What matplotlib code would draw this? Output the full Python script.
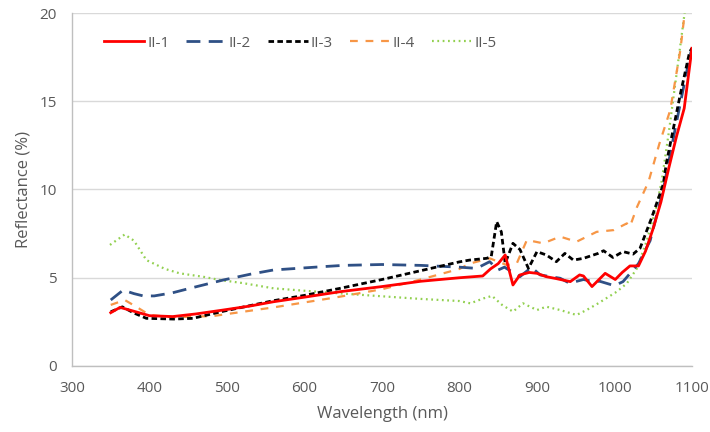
import matplotlib
matplotlib.use("Agg")
import matplotlib.pyplot as plt

# ---- data ----
wl_1 = [350, 362, 380, 400, 430, 460, 495, 530, 560, 600, 646, 700, 750, 800, 830, 840, 850, 859, 869, 878, 890, 900, 912, 925, 943, 955, 960, 971, 988, 1001, 1010, 1020, 1031, 1040, 1050, 1060, 1070, 1080, 1090, 1100]
r_1 = [3.02, 3.32, 3.1, 2.85, 2.8, 2.95, 3.17, 3.4, 3.64, 3.9, 4.21, 4.5, 4.8, 5.0, 5.1, 5.5, 5.8, 6.29, 4.59, 5.16, 5.3, 5.25, 5.06, 4.95, 4.78, 5.16, 5.1, 4.5, 5.25, 4.9, 5.3, 5.67, 5.67, 6.5, 7.8, 9.3, 11.2, 13.0, 14.6, 18.0]

wl_2 = [350, 366, 380, 392, 406, 430, 452, 495, 530, 560, 624, 650, 700, 750, 800, 822, 839, 850, 858, 878, 893, 904, 930, 942, 960, 973, 981, 1000, 1011, 1022, 1031, 1046, 1063, 1080, 1097, 1100]
r_2 = [3.74, 4.3, 4.1, 3.97, 3.97, 4.15, 4.4, 4.87, 5.2, 5.44, 5.63, 5.7, 5.75, 5.7, 5.6, 5.53, 5.91, 5.44, 5.6, 5.06, 5.59, 5.16, 4.97, 4.69, 4.9, 4.78, 4.8, 4.55, 4.78, 5.34, 5.8, 7.1, 10.0, 13.8, 17.5, 18.0]

wl_3 = [350, 365, 380, 396, 431, 456, 495, 560, 600, 646, 700, 750, 800, 813, 835, 841, 848, 854, 859, 869, 878, 889, 900, 912, 925, 936, 947, 960, 979, 986, 998, 1011, 1024, 1033, 1048, 1063, 1067, 1085, 1097, 1100]
r_3 = [3.07, 3.35, 3.0, 2.7, 2.66, 2.7, 3.1, 3.7, 4.0, 4.4, 4.9, 5.4, 5.9, 6.0, 6.1, 6.2, 8.18, 7.6, 5.82, 6.95, 6.6, 5.53, 6.48, 6.29, 5.91, 6.38, 6.0, 6.1, 6.38, 6.53, 6.15, 6.48, 6.34, 6.67, 8.4, 10.3, 11.5, 15.4, 17.8, 18.0]

wl_4 = [350, 368, 385, 400, 431, 482, 560, 641, 700, 750, 800, 813, 839, 861, 874, 887, 908, 930, 951, 977, 999, 1016, 1020, 1029, 1044, 1058, 1072, 1085, 1092]
r_4 = [3.46, 3.74, 3.3, 2.89, 2.76, 2.83, 3.32, 3.89, 4.35, 4.9, 5.5, 5.8, 6.1, 5.72, 5.82, 7.14, 6.95, 7.33, 7.04, 7.6, 7.7, 8.08, 7.9, 9.0, 10.45, 12.6, 14.5, 17.9, 20.5]

wl_5 = [349, 368, 380, 396, 420, 439, 470, 491, 520, 560, 616, 650, 700, 750, 800, 814, 831, 842, 855, 869, 882, 900, 912, 930, 951, 964, 979, 1003, 1016, 1029, 1042, 1054, 1061, 1070, 1080, 1092]
r_5 = [6.86, 7.45, 7.1, 6.0, 5.5, 5.25, 5.05, 4.87, 4.7, 4.4, 4.21, 4.1, 3.95, 3.8, 3.68, 3.55, 3.83, 3.97, 3.46, 3.08, 3.55, 3.17, 3.36, 3.17, 2.89, 3.17, 3.55, 4.21, 4.68, 5.53, 7.14, 9.0, 10.5, 13.2, 16.5, 20.5]

labels = ["II-1", "II-2", "II-3", "II-4", "II-5"]
x_ticks = [300, 400, 500, 600, 700, 800, 900, 1000, 1100]
y_ticks = [0, 5, 10, 15, 20]

plt.rcParams['font.family'] = ['Open Sans', 'DejaVu Sans']

fig = plt.figure(figsize=(7.1, 4.32), dpi=100)
ax = fig.add_axes([0.1014, 0.1528, 0.8732, 0.8171])

ax.plot(wl_1, r_1, color="#FF0000", lw=2.0, label=labels[0], zorder=5)
ax.plot(wl_2, r_2, color="#2F5085", lw=2.0, dashes=(5, 3), label=labels[1], zorder=3)
ax.plot(wl_3, r_3, color="#000000", lw=2.0, dashes=(2, 1.2), label=labels[2], zorder=4)
ax.plot(wl_4, r_4, color="#F79646", lw=1.6, dashes=(3.5, 3.5), label=labels[3], zorder=2)
ax.plot(wl_5, r_5, color="#92D050", lw=1.6, dashes=(0.8, 1.6), label=labels[4], zorder=1)

ax.set_xlim(300, 1100)
ax.set_ylim(0, 20)
ax.set_xticks(x_ticks)
ax.set_yticks(y_ticks)
ax.tick_params(axis='x', length=0, labelsize=11, labelcolor="#595959", pad=11)
ax.tick_params(axis='y', length=0, labelsize=11, labelcolor="#595959", pad=11)
ax.grid(axis='y', color="#D9D9D9", lw=1.0)
ax.set_axisbelow(True)
for s in ["top", "right"]:
    ax.spines[s].set_visible(False)
for s in ["left", "bottom"]:
    ax.spines[s].set_color("#BFBFBF")
    ax.spines[s].set_linewidth(1.0)

ax.set_xlabel("Wavelength (nm)", fontsize=12, color="#595959", labelpad=7)
ax.set_ylabel("Reflectance (%)", fontsize=12, color="#595959", labelpad=6)

leg = ax.legend(loc="upper left", bbox_to_anchor=(0.03, 0.975), ncol=5, frameon=False,
                fontsize=11, handlelength=2.6, handletextpad=0.2, columnspacing=1.1)
for t in leg.get_texts():
    t.set_color("#595959")

fig.savefig("out.png", dpi=100)
